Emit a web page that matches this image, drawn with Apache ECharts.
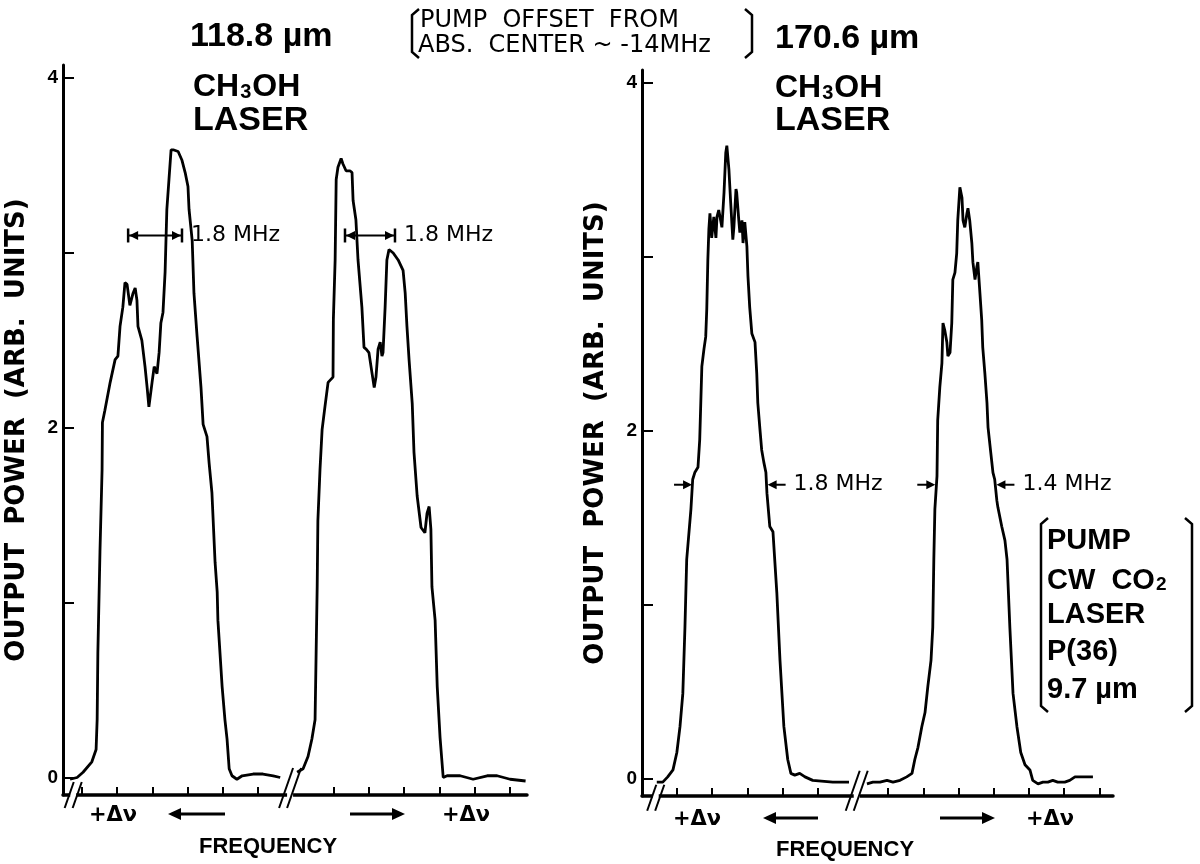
<!DOCTYPE html>
<html>
<head>
<meta charset="utf-8">
<title>CH3OH laser output vs frequency</title>
<script src="https://cdn.jsdelivr.net/npm/echarts@6.0.0/dist/echarts.min.js"></script>
<style>
    html, body { margin: 0; padding: 0; background: #fff; }
    #chart { width: 1200px; height: 864px; }
</style>
</head>
<body>
<div id="chart"></div>
<script>
// frequency in tick units, power in arb. units

// 118.8 um, first scan
var leftPeakA = [
    [-0.34, -0.01], [-0.14, 0.00], [0.03, 0.03], [0.28, 0.09], [0.40, 0.16], [0.43, 0.33],
    [0.45, 0.71], [0.51, 1.29], [0.57, 1.76], [0.58, 2.03], [0.65, 2.10], [0.80, 2.26],
    [0.94, 2.39], [1.02, 2.41], [1.08, 2.58], [1.16, 2.69], [1.22, 2.83], [1.28, 2.82],
    [1.36, 2.70], [1.45, 2.77], [1.51, 2.80], [1.56, 2.73], [1.59, 2.58], [1.70, 2.50],
    [1.79, 2.35], [1.85, 2.23], [1.90, 2.12], [1.99, 2.26], [2.05, 2.35], [2.13, 2.31],
    [2.19, 2.43], [2.24, 2.60], [2.30, 2.66], [2.36, 2.89], [2.41, 3.25], [2.47, 3.42],
    [2.53, 3.59], [2.59, 3.59], [2.73, 3.58], [2.84, 3.53], [2.93, 3.46], [3.01, 3.38],
    [3.04, 3.25], [3.13, 3.07], [3.18, 2.77], [3.27, 2.52], [3.38, 2.23], [3.44, 2.02],
    [3.55, 1.95], [3.61, 1.80], [3.69, 1.63], [3.78, 1.23], [3.84, 1.06], [3.86, 0.90],
    [3.98, 0.52], [4.06, 0.33], [4.12, 0.22], [4.18, 0.05], [4.26, 0.01], [4.40, -0.01],
    [4.55, 0.01], [4.86, 0.02], [5.14, 0.02], [5.43, 0.01], [5.63, 0.00]
];

// 118.8 um, second scan (after the break)
var leftPeakB = [
    [6.11, 0.03], [6.28, 0.05], [6.42, 0.12], [6.53, 0.22], [6.62, 0.33], [6.65, 0.71],
    [6.68, 1.09], [6.70, 1.47], [6.76, 1.76], [6.82, 1.99], [6.90, 2.12], [6.99, 2.26],
    [7.13, 2.29], [7.14, 2.62], [7.19, 2.96], [7.22, 3.42], [7.27, 3.49], [7.36, 3.54],
    [7.41, 3.51], [7.50, 3.47], [7.61, 3.47], [7.67, 3.46], [7.70, 3.30], [7.78, 3.19],
    [7.84, 2.96], [7.95, 2.69], [8.01, 2.46], [8.07, 2.45], [8.15, 2.43], [8.24, 2.31],
    [8.30, 2.23], [8.35, 2.29], [8.41, 2.45], [8.47, 2.49], [8.52, 2.41], [8.55, 2.43],
    [8.61, 2.69], [8.66, 2.96], [8.72, 3.02], [8.84, 3.00], [8.98, 2.96], [9.12, 2.90],
    [9.18, 2.77], [9.23, 2.58], [9.29, 2.39], [9.38, 2.14], [9.43, 1.86], [9.52, 1.61],
    [9.63, 1.43], [9.74, 1.40], [9.80, 1.51], [9.86, 1.55], [9.91, 1.42], [9.94, 1.09],
    [10.03, 0.90], [10.09, 0.52], [10.17, 0.23], [10.26, 0.00], [10.37, 0.01], [10.74, 0.01],
    [11.11, -0.01], [11.51, 0.01], [11.79, 0.01], [12.16, -0.01], [12.60, -0.02]
];

// 170.6 um, first scan
var rightPeakA = [
    [-0.57, -0.02], [-0.40, -0.02], [-0.26, 0.01], [-0.11, 0.05], [0.00, 0.15], [0.09, 0.30],
    [0.17, 0.49], [0.23, 0.87], [0.28, 1.26], [0.40, 1.55], [0.45, 1.72], [0.51, 1.76],
    [0.60, 1.79], [0.65, 1.95], [0.71, 2.37], [0.77, 2.47], [0.82, 2.54], [0.85, 2.70],
    [0.88, 2.98], [0.91, 3.16], [0.94, 3.25], [0.99, 3.11], [1.05, 3.23], [1.11, 3.11],
    [1.14, 3.23], [1.19, 3.27], [1.28, 3.17], [1.34, 3.37], [1.39, 3.60], [1.42, 3.64],
    [1.48, 3.50], [1.53, 3.31], [1.59, 3.10], [1.62, 3.17], [1.68, 3.39], [1.70, 3.37],
    [1.76, 3.21], [1.79, 3.14], [1.85, 3.21], [1.88, 3.08], [1.93, 3.20], [1.99, 3.06],
    [2.02, 2.89], [2.07, 2.71], [2.13, 2.56], [2.22, 2.51], [2.27, 2.33], [2.30, 2.16],
    [2.36, 2.01], [2.41, 1.89], [2.47, 1.82], [2.53, 1.76], [2.56, 1.64], [2.64, 1.45],
    [2.73, 1.42], [2.84, 1.07], [2.93, 0.68], [3.04, 0.30], [3.15, 0.11], [3.24, 0.03],
    [3.35, 0.02], [3.49, 0.03], [3.64, 0.01], [3.86, -0.01], [4.43, -0.02], [4.89, -0.02]
];

// 170.6 um, second scan (after the break)
var rightPeakB = [
    [5.40, -0.03], [5.57, -0.02], [5.77, -0.02], [5.97, -0.01], [6.14, -0.02], [6.34, -0.01],
    [6.53, 0.01], [6.68, 0.03], [6.76, 0.11], [6.85, 0.18], [6.96, 0.30], [7.05, 0.38],
    [7.13, 0.53], [7.22, 0.68], [7.27, 0.87], [7.30, 1.26], [7.33, 1.55], [7.39, 1.74],
    [7.41, 2.06], [7.47, 2.25], [7.53, 2.39], [7.56, 2.62], [7.61, 2.58], [7.67, 2.51],
    [7.70, 2.43], [7.76, 2.45], [7.81, 2.62], [7.84, 2.87], [7.90, 2.91], [7.95, 3.02],
    [7.98, 3.21], [8.04, 3.40], [8.10, 3.34], [8.13, 3.21], [8.18, 3.17], [8.24, 3.25],
    [8.27, 3.28], [8.32, 3.21], [8.38, 3.08], [8.41, 2.97], [8.47, 2.87], [8.52, 2.94],
    [8.55, 2.97], [8.61, 2.79], [8.66, 2.64], [8.69, 2.48], [8.75, 2.33], [8.81, 2.16],
    [8.84, 2.02], [8.92, 1.87], [8.98, 1.76], [9.03, 1.72], [9.09, 1.60], [9.12, 1.56],
    [9.23, 1.45], [9.32, 1.37], [9.38, 1.26], [9.46, 0.87], [9.55, 0.49], [9.66, 0.30],
    [9.77, 0.15], [9.89, 0.08], [10.03, 0.05], [10.11, -0.01], [10.26, -0.03], [10.40, -0.02],
    [10.54, -0.02], [10.68, -0.01], [10.82, -0.02], [11.02, -0.02], [11.16, -0.01], [11.31, 0.01],
    [11.45, 0.01], [11.65, 0.01], [11.82, 0.01]
];

// axis ticks
var yTicks = [0, 1, 2, 3, 4];
var yTickLabels = [0, 2, 4];
var leftXTicks = [0, 1, 2, 3, 4, 5, 7.15, 8.15, 9.15, 10.15, 11.15, 12.15];
var rightXTicks = [0, 1, 2, 3, 4, 6, 7, 8, 9, 10, 11, 12];

// linewidth markers: [from, to, level]
var leftWidths = [[1.31, 2.84, 3.10], [7.47, 8.89, 3.10]];
var leftWidthLabels = ['1.8 MHz', '1.8 MHz'];
var rightWidths = [[0.46, 2.55, 1.69], [7.37, 9.05, 1.69]];
var rightWidthLabels = ['1.8 MHz', '1.4 MHz'];

// axis breaks: [x, y]
var leftBreaks = [[-0.25, -0.1], [5.91, -0.06]];
var rightBreaks = [[-0.6, -0.11], [5.11, -0.07]];

var FONT = '"Liberation Sans", Arial, sans-serif';
var FONT2 = '"DejaVu Sans", sans-serif';

var myChart = echarts.init(document.getElementById('chart'));

function seg(x1, y1, x2, y2, w) {
    return {
        type: 'line',
        shape: {x1: x1, y1: y1, x2: x2, y2: y2},
        style: {stroke: '#000', lineWidth: w || 2}
    };
}

// arrow head with tip at (x, y); dir 1 points right, -1 points left
function head(x, y, dir) {
    return {
        type: 'polygon',
        shape: {points: [[x, y], [x - dir * 9, y - 4.5], [x - dir * 9, y + 4.5]]},
        style: {fill: '#000'}
    };
}

function widthText(text, x, y) {
    return {
        type: 'text',
        style: {
            text: text, x: x, y: y, fill: '#000',
            font: '22px ' + FONT2, textAlign: 'left', textVerticalAlign: 'middle'
        }
    };
}

// |<-->| markers of the left panel
function spanRenderer(labels) {
    return function (params, api) {
        var a = api.coord([api.value(0), api.value(2)]);
        var b = api.coord([api.value(1), api.value(2)]);
        var y = a[1];
        return {
            type: 'group',
            children: [
                seg(a[0], y, b[0], y, 2),
                seg(a[0], y - 7, a[0], y + 7, 2.5),
                seg(b[0], y - 7, b[0], y + 7, 2.5),
                head(a[0] + 1, y, -1),
                head(b[0] - 1, y, 1),
                widthText(labels[params.dataIndex], b[0] + 9, y)
            ]
        };
    };
}

// -> <- markers of the right panel
function edgeRenderer(labels) {
    return function (params, api) {
        var a = api.coord([api.value(0), api.value(2)]);
        var b = api.coord([api.value(1), api.value(2)]);
        var y = a[1];
        return {
            type: 'group',
            children: [
                seg(a[0] - 19, y, a[0] - 4, y, 2),
                head(a[0] - 1, y, 1),
                seg(b[0] + 4, y, b[0] + 19, y, 2),
                head(b[0] + 1, y, -1),
                widthText(labels[params.dataIndex], b[0] + 27, y)
            ]
        };
    };
}

// "//" break marks
function breakRenderer(params, api) {
    var c = api.coord([api.value(0), api.value(1)]);
    var h = params.dataIndex === 0 ? 13 : 20;
    var k = h * 0.35;
    return {
        type: 'group',
        children: [
            {
                type: 'rect',
                shape: {x: c[0] - 3, y: c[1] - h * 0.6, width: 6, height: h * 1.2},
                style: {fill: '#fff'}
            },
            seg(c[0] - 4 - k, c[1] + h, c[0] - 4 + k, c[1] - h, 2),
            seg(c[0] + 4 - k, c[1] + h, c[0] + 4 + k, c[1] - h, 2)
        ]
    };
}

function makeXAxis(idx, min, max, ticks) {
    return {
        type: 'value', gridIndex: idx, min: min, max: max,
        axisLine: {onZero: false, lineStyle: {color: '#000', width: 3.5}},
        axisTick: {inside: true, length: 8, customValues: ticks, lineStyle: {color: '#000', width: 2}},
        axisLabel: {show: false},
        splitLine: {show: false}
    };
}

function makeYAxis(idx) {
    return {
        type: 'value', gridIndex: idx, min: -0.1, max: 4.075,
        name: 'OUTPUT  POWER  (ARB.  UNITS)',
        nameLocation: 'middle', nameRotate: 90, nameGap: 33,
        nameTextStyle: {color: '#000', fontFamily: FONT2, fontWeight: 'bold', fontSize: 26},
        axisLine: {onZero: false, lineStyle: {color: '#000', width: 3}},
        axisTick: {inside: true, length: 11, customValues: yTicks, lineStyle: {color: '#000', width: 2}},
        axisLabel: {
            customValues: yTickLabels, margin: 5,
            color: '#000', fontFamily: FONT, fontWeight: 'bold', fontSize: 19
        },
        splitLine: {show: false}
    };
}

function curve(data, idx) {
    return {
        type: 'line', xAxisIndex: idx, yAxisIndex: idx, data: data,
        showSymbol: false, silent: true, animation: false,
        lineStyle: {color: '#000', width: 2.8}
    };
}

function overlay(data, idx, renderer) {
    return {
        type: 'custom', xAxisIndex: idx, yAxisIndex: idx, data: data,
        renderItem: renderer, clip: false, silent: true, animation: false, z: 5
    };
}

function txt(x, y, text, font, align) {
    return {
        type: 'text', x: x, y: y, silent: true,
        style: {text: text, font: font, fill: '#000', textAlign: align || 'left', textVerticalAlign: 'middle'}
    };
}

function chem(x, y, sub) {
    return {
        type: 'text', x: x, y: y, silent: true,
        style: {
            text: sub, fill: '#000', textVerticalAlign: 'middle',
            font: 'bold 32px ' + FONT,
            rich: {
                b: {font: 'bold 32px ' + FONT, lineHeight: 36, verticalAlign: 'bottom'},
                s: {font: 'bold 20px ' + FONT, lineHeight: 36, verticalAlign: 'bottom', padding: [0, 1, 1, 1]}
            }
        }
    };
}

function arrow(x1, x2, y) {
    var dir = x2 > x1 ? 1 : -1;
    return {
        type: 'group', silent: true,
        children: [
            {type: 'line', shape: {x1: x1, y1: y, x2: x2 - dir * 8, y2: y}, style: {stroke: '#000', lineWidth: 3}},
            {type: 'polygon', shape: {points: [[x2, y], [x2 - dir * 13, y - 6], [x2 - dir * 13, y + 6]]}, style: {fill: '#000'}}
        ]
    };
}

function bracket(x, y1, y2, dir) {
    return {
        type: 'polyline', silent: true,
        shape: {points: [[x + dir * 7, y1], [x, y1 + 6], [x, y2 - 6], [x + dir * 7, y2]]},
        style: {stroke: '#000', lineWidth: 2.5, fill: null}
    };
}

var titleFont = 'bold 34px ' + FONT;
var boxFont = 'bold 29px ' + FONT;
var noteFont = '24px ' + FONT2;
var freqFont = 'bold 22px ' + FONT;
var nuFont = 'bold 21px ' + FONT2;

var option = {
    backgroundColor: '#fff',
    animation: false,
    grid: [
        {left: 63, top: 65, width: 464, height: 730},
        {left: 642, top: 70, width: 471, height: 726}
    ],
    xAxis: [
        makeXAxis(0, -0.54, 12.64, leftXTicks),
        makeXAxis(1, -0.99, 12.39, rightXTicks)
    ],
    yAxis: [makeYAxis(0), makeYAxis(1)],
    series: [
        curve(leftPeakA, 0),
        curve(leftPeakB, 0),
        curve(rightPeakA, 1),
        curve(rightPeakB, 1),
        overlay(leftWidths, 0, spanRenderer(leftWidthLabels)),
        overlay(rightWidths, 1, edgeRenderer(rightWidthLabels)),
        overlay(leftBreaks, 0, breakRenderer),
        overlay(rightBreaks, 1, breakRenderer)
    ],
    graphic: [
        // left panel heading
        txt(190, 37, '118.8 µm', titleFont),
        chem(193, 85, '{b|CH}{s|3}{b|OH}'),
        txt(193, 121, 'LASER', titleFont),
        // pump offset note
        bracket(412, 9, 58, 1),
        txt(420, 21, 'PUMP  OFFSET  FROM', noteFont),
        txt(418, 46, 'ABS.  CENTER ~ -14MHz', noteFont),
        bracket(752, 9, 58, -1),
        // right panel heading
        txt(775, 39, '170.6 µm', titleFont),
        chem(775, 86, '{b|CH}{s|3}{b|OH}'),
        txt(775, 121, 'LASER', titleFont),
        // pump box
        bracket(1041, 518, 712, 1),
        txt(1047, 541, 'PUMP', boxFont),
        {
            type: 'text', x: 1047, y: 578, silent: true,
            style: {
                text: '{b|CW  CO}{s|2}', fill: '#000', textVerticalAlign: 'middle',
                rich: {
                    b: {font: boxFont, lineHeight: 34, verticalAlign: 'bottom'},
                    s: {font: 'bold 19px ' + FONT, lineHeight: 34, verticalAlign: 'bottom', padding: [0, 0, 1, 1]}
                }
            }
        },
        txt(1047, 615, 'LASER', boxFont),
        txt(1047, 652, 'P(36)', boxFont),
        txt(1047, 690, '9.7 µm', boxFont),
        bracket(1192, 518, 712, -1),
        // left frequency axis
        txt(113, 816, '+Δν', nuFont, 'center'),
        arrow(225, 168, 814),
        arrow(350, 405, 814),
        txt(466, 816, '+Δν', nuFont, 'center'),
        txt(268, 847, 'FREQUENCY', freqFont, 'center'),
        // right frequency axis
        txt(697, 820, '+Δν', nuFont, 'center'),
        arrow(818, 763, 818),
        arrow(940, 995, 818),
        txt(1050, 820, '+Δν', nuFont, 'center'),
        txt(845, 850, 'FREQUENCY', freqFont, 'center')
    ]
};

myChart.setOption(option);
</script>
</body>
</html>
